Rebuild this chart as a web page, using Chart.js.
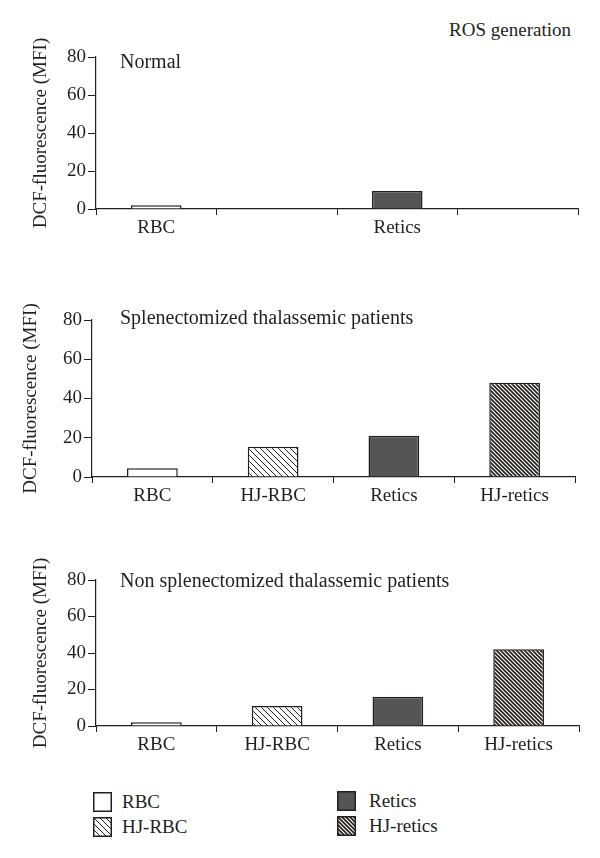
<!DOCTYPE html>
<html>
<head>
<meta charset="utf-8">
<script src="https://cdn.jsdelivr.net/npm/chart.js@4.4.1/dist/chart.umd.min.js"></script>
<style>
  html, body { margin: 0; padding: 0; background: #fff; }
  #wrap { position: relative; width: 600px; height: 858px; overflow: hidden; font-family: "Liberation Serif", serif; color: #231f20; }
  canvas.panel { position: absolute; left: 0; }
  #ros { position: absolute; right: 29px; top: 19px; font-size: 19px; }
  .leg { position: absolute; font-size: 19px; line-height: 20px; }
  .sw { position: absolute; }
</style>
</head>
<body>
<div id="wrap">
  <div id="ros">ROS generation</div>
  <canvas class="panel" id="c1" width="600" height="249" style="top:0px"></canvas>
  <canvas class="panel" id="c2" width="600" height="257" style="top:260px"></canvas>
  <canvas class="panel" id="c3" width="600" height="236" style="top:530px"></canvas>
  <canvas class="sw" id="s0" width="19" height="20" style="left:93px;top:792px"></canvas>
  <div class="leg" style="left:122px;top:792px">RBC</div>
  <canvas class="sw" id="s1" width="19" height="20" style="left:93px;top:817px"></canvas>
  <div class="leg" style="left:122px;top:817px">HJ-RBC</div>
  <canvas class="sw" id="s2" width="19" height="20" style="left:337px;top:791px"></canvas>
  <div class="leg" style="left:369px;top:791px">Retics</div>
  <canvas class="sw" id="s3" width="19" height="20" style="left:337px;top:816px"></canvas>
  <div class="leg" style="left:369px;top:816px">HJ-retics</div>
</div>
<script>
// ---- data ----
const categories = ['RBC', 'HJ-RBC', 'Retics', 'HJ-retics'];
const normalLabels = ['RBC', '', 'Retics', ''];
const normalValues = [2, null, 9.5, null];
const splenectomizedValues = [4.5, 15.4, 21, 48];
const nonSplenectomizedValues = [2, 11, 16, 42];
const yTicks = [0, 20, 40, 60, 80];
const panelTitles = ['Normal', 'Splenectomized thalassemic patients', 'Non splenectomized thalassemic patients'];
const yTitle = 'DCF-fluorescence (MFI)';

// ---- styles ----
const INK = '#231f20';
const FONT = 'Liberation Serif';

function hatch(spacing, lw, bg) {
  const c = document.createElement('canvas');
  c.width = spacing; c.height = spacing;
  const g = c.getContext('2d');
  g.fillStyle = bg; g.fillRect(0, 0, spacing, spacing);
  g.strokeStyle = INK; g.lineWidth = lw;
  g.beginPath();
  g.moveTo(-1, -1); g.lineTo(spacing + 1, spacing + 1);
  g.moveTo(-1, spacing - 1); g.lineTo(1, spacing + 1);
  g.moveTo(spacing - 1, -1); g.lineTo(spacing + 1, 1);
  g.stroke();
  return g.createPattern(c, 'repeat');
}
const fills = [
  '#ffffff',
  hatch(6, 1, '#ffffff'),
  '#575455',
  hatch(4, 1.6, '#fbfbf2')
];

const panelTitlePlugin = {
  id: 'panelTitle',
  afterDraw(chart, args, opts) {
    const ctx = chart.ctx, a = chart.chartArea;
    ctx.save();
    ctx.font = '20px "' + FONT + '"';
    ctx.fillStyle = INK;
    ctx.textBaseline = 'alphabetic';
    ctx.fillText(opts.text, a.left + opts.dx, a.top + opts.dy);
    ctx.restore();
  }
};

function makeChart(id, labels, values, cfg) {
  new Chart(document.getElementById(id), {
    type: 'bar',
    data: {
      labels: labels,
      datasets: [{
        data: values,
        backgroundColor: fills,
        borderColor: INK,
        borderWidth: 1.5,
        borderSkipped: 'bottom',
        categoryPercentage: 1,
        barPercentage: 0.42
      }]
    },
    plugins: [panelTitlePlugin],
    options: {
      responsive: false,
      devicePixelRatio: 1,
      animation: false,
      layout: { padding: { top: cfg.top, right: cfg.right, left: 0, bottom: 0 } },
      plugins: {
        legend: { display: false },
        tooltip: { enabled: false },
        panelTitle: { text: cfg.title, dx: cfg.tdx, dy: cfg.tdy }
      },
      scales: {
        x: {
          type: 'category',
          offset: true,
          grid: { display: true, offset: true, drawOnChartArea: false, drawTicks: true, tickLength: 6, color: INK, lineWidth: 1 },
          border: { display: true, color: INK, width: 1.2 },
          ticks: { color: INK, font: { family: FONT, size: 19 }, maxRotation: 0, autoSkip: false, padding: 2 },
          afterFit(s) { s.height = 40; }
        },
        y: {
          min: 0, max: 80,
          afterBuildTicks(s) { s.ticks = yTicks.map(v => ({ value: v })); },
          grid: { display: true, drawOnChartArea: false, drawTicks: true, tickLength: 8, color: INK, lineWidth: 1 },
          border: { display: true, color: INK, width: 1.2 },
          ticks: { color: INK, font: { family: FONT, size: 19 }, padding: 2 },
          title: { display: true, text: yTitle, color: INK, font: { family: FONT, size: 19 }, padding: { top: cfg.ytp, bottom: 0 } },
          afterFit(s) { s.width = cfg.yw; }
        }
      }
    }
  });
}

makeChart('c1', normalLabels, normalValues, { top: 57, right: 22, yw: 96, ytp: 30, title: panelTitles[0], tdx: 24, tdy: 11 });
makeChart('c2', categories, splenectomizedValues, { top: 60, right: 25, yw: 92, ytp: 20, title: panelTitles[1], tdx: 28, tdy: 4 });
makeChart('c3', categories, nonSplenectomizedValues, { top: 50, right: 21, yw: 96, ytp: 30, title: panelTitles[2], tdx: 24, tdy: 7 });

// legend swatches
['s0', 's1', 's2', 's3'].forEach((id, i) => {
  const c = document.getElementById(id), g = c.getContext('2d');
  g.fillStyle = fills[i];
  g.fillRect(1, 1, c.width - 2, c.height - 2);
  g.strokeStyle = INK; g.lineWidth = 1.5;
  g.strokeRect(0.75, 0.75, c.width - 1.5, c.height - 1.5);
});
</script>
</body>
</html>
